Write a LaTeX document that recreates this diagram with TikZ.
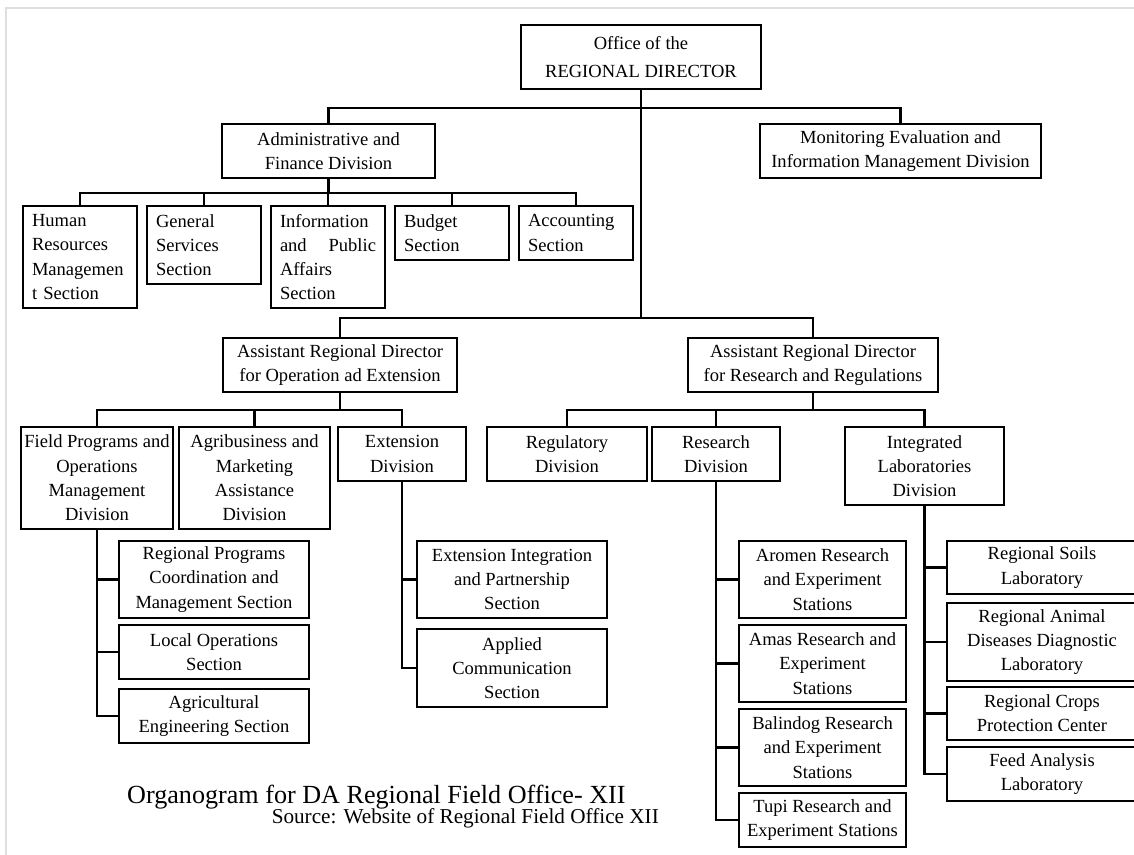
\documentclass[tikz,border=0pt]{standalone}
\usepackage{fontspec}
\setmainfont{Liberation Serif}
\newcommand\boxfont{\fontsize{13.9pt}{18.2pt}\selectfont}
\begin{document}
\begin{tikzpicture}[x=0.75pt, y=-0.75pt, line width=1.8pt,
    box/.style={draw, align=center, inner sep=0pt, font=\boxfont},
    lbox/.style={draw, align=left, inner sep=0pt, text width=72pt, font=\boxfont},
    wh/.style 2 args={minimum width=#1*0.75pt, minimum height=#2*0.75pt}]

    \useasboundingbox (0,0) rectangle (1134,855);
    \draw [gray!25, line width=1.5pt] (6,855) -- (6,8) -- (1134,8);

    \node [box, wh={240}{64}, font=\fontsize{13.9pt}{21pt}\selectfont] (rd) at (641,57) {Office of the\\REGIONAL DIRECTOR};
    \node [box, wh={213}{54}] (adm) at (328.5,151) {Administrative and\\Finance Division};
    \node [box, wh={281}{54}] (mon) at (900.5,151) {Monitoring Evaluation and\\Information Management Division};

    \node [lbox, wh={114}{102}] (hr) at (80,257) {Human\\Resources\\Managemen\\t Section};
    \node [lbox, wh={114}{78}] (gs) at (204,245) {General\\Services\\Section};
    \node [lbox, wh={114}{102}] (ipa) at (328,257) {Information\\\leavevmode\hbox to 72pt{and\hfill Public}\\Affairs\\Section};
    \node [lbox, wh={114}{54}] (bud) at (452,233) {Budget\\Section};
    \node [lbox, wh={114}{54}] (acc) at (576,233) {Accounting\\Section};

    \node [box, wh={234}{54}] (ardo) at (340,365) {Assistant Regional Director\\for Operation ad Extension};
    \node [box, wh={250}{54}] (ardr) at (813,365) {Assistant Regional Director\\for Research and Regulations};

    \node [box, wh={152}{102}] (fp) at (97,478) {Field Programs and\\Operations\\Management\\Division};
    \node [box, wh={151}{102}] (agb) at (254.5,478) {Agribusiness and\\Marketing\\Assistance\\Division};
    \node [box, wh={128}{54}] (ext) at (402,454) {Extension\\Division};
    \node [box, wh={160}{54}] (reg) at (567,454) {Regulatory\\Division};
    \node [box, wh={128}{54}] (res) at (716,454) {Research\\Division};
    \node [box, wh={159}{78}] (lab) at (924.5,466) {Integrated\\Laboratories\\Division};

    \node [box, wh={190}{77}] (rpcm) at (214,579.5) {Regional Programs\\Coordination and\\Management Section};
    \node [box, wh={190}{54}] (lops) at (214,652) {Local Operations\\Section};
    \node [box, wh={190}{54}] (aeng) at (214,716) {Agricultural\\Engineering Section};

    \node [box, wh={190}{77}] (eip) at (512,579.5) {Extension Integration\\and Partnership\\Section};
    \node [box, wh={190}{78}] (apc) at (512,668) {Applied\\Communication\\Section};

    \node [box, wh={167}{77}] (aro) at (822.5,579.5) {Aromen Research\\and Experiment\\Stations};
    \node [box, wh={167}{77}] (ama) at (822.5,663.5) {Amas Research and\\Experiment\\Stations};
    \node [box, wh={167}{77}] (bal) at (822.5,747.5) {Balindog Research\\and Experiment\\Stations};
    \node [box, wh={167}{54}] (tup) at (822.5,820) {Tupi Research and\\Experiment Stations};

    \node [box, wh={190}{53}] (soi) at (1042,567.5) {Regional Soils\\Laboratory};
    \node [box, wh={190}{78}] (ani) at (1042,642) {Regional Animal\\Diseases Diagnostic\\Laboratory};
    \node [box, wh={190}{53}] (cro) at (1042,713.5) {Regional Crops\\Protection Center};
    \node [box, wh={190}{54}] (fee) at (1042,774) {Feed Analysis\\Laboratory};

    \node [anchor=base west, inner sep=0pt, font=\fontsize{19.6pt}{22pt}\selectfont] (cap) at (126,803) {Organogram for DA Regional Field Office- XII};
    \node [anchor=base east, inner sep=0pt, font=\fontsize{15.9pt}{18pt}\selectfont] (src) at (660,823) {Source: Website of Regional Field Office XII};

    \draw (rd.south) -- ++(0,18) -| (adm.north);
    \draw (rd.south) -- ++(0,18) -| (mon.north);
    \draw (rd.south) -- ++(0,228) -| (ardo.north);
    \draw (rd.south) -- ++(0,228) -| (ardr.north);

    \draw (adm.south) -- ++(0,14) -| (hr.north);
    \draw (adm.south) -- ++(0,14) -| (gs.north);
    \draw (adm.south) -- ++(0,14) -| (ipa.north);
    \draw (adm.south) -- ++(0,14) -| (bud.north);
    \draw (adm.south) -- ++(0,14) -| (acc.north);

    \draw (ardo.south) -- ++(0,17) -| (fp.north);
    \draw (ardo.south) -- ++(0,17) -| (agb.north);
    \draw (ardo.south) -- ++(0,17) -| (ext.north);
    \draw (ardr.south) -- ++(0,17) -| (reg.north);
    \draw (ardr.south) -- ++(0,17) -| (res.north);
    \draw (ardr.south) -- ++(0,17) -| (lab.north);

    \draw (fp.south) |- (rpcm.west);
    \draw (fp.south) |- (lops.west);
    \draw (fp.south) |- (aeng.west);
    \draw (ext.south) |- (eip.west);
    \draw (ext.south) |- (apc.west);
    \draw (res.south) |- (aro.west);
    \draw (res.south) |- (ama.west);
    \draw (res.south) |- (bal.west);
    \draw (res.south) |- (tup.west);
    \draw (lab.south) |- (soi.west);
    \draw (lab.south) |- (ani.west);
    \draw (lab.south) |- (cro.west);
    \draw (lab.south) |- (fee.west);

  \end{tikzpicture}
\end{document}
